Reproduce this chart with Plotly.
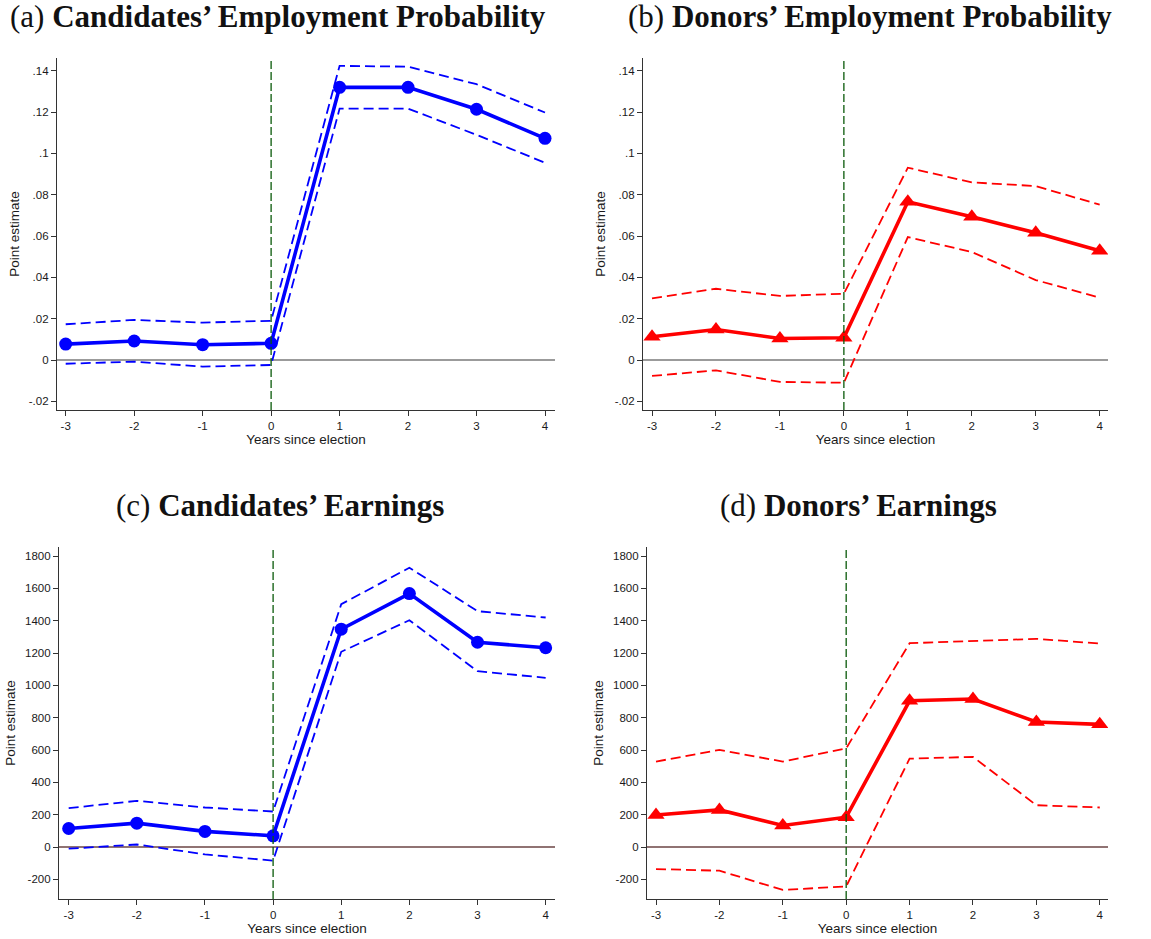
import plotly.graph_objects as go

years = [-3, -2, -1, 0, 1, 2, 3, 4]

# (a) Candidates' employment probability
cand_emp = [0.0077, 0.0092, 0.0074, 0.0081, 0.1320, 0.1320, 0.1214, 0.1073]
cand_emp_hi = [0.0173, 0.0194, 0.0181, 0.0190, 0.1424, 0.1420, 0.1335, 0.1198]
cand_emp_lo = [-0.0018, -0.0008, -0.0032, -0.0024, 0.1217, 0.1217, 0.1090, 0.0955]

# (b) Donors' employment probability
don_emp = [0.0113, 0.0148, 0.0104, 0.0108, 0.0766, 0.0694, 0.0616, 0.0529]
don_emp_hi = [0.0298, 0.0345, 0.0310, 0.0321, 0.0931, 0.0860, 0.0842, 0.0752]
don_emp_lo = [-0.0077, -0.0050, -0.0106, -0.0110, 0.0595, 0.0523, 0.0387, 0.0302]

# (c) Candidates' earnings
cand_earn = [115, 148, 97, 70, 1348, 1568, 1267, 1233]
cand_earn_hi = [241, 286, 245, 220, 1502, 1728, 1459, 1420]
cand_earn_lo = [-10, 16, -45, -84, 1208, 1403, 1088, 1047]

# (d) Donors' earnings
don_earn = [198, 230, 134, 185, 905, 916, 774, 759]
don_earn_hi = [529, 601, 529, 611, 1261, 1276, 1288, 1259]
don_earn_lo = [-136, -146, -265, -243, 547, 558, 259, 245]

emp_ticks = [-0.02, 0, 0.02, 0.04, 0.06, 0.08, 0.1, 0.12, 0.14]
emp_ticktext = ["-.02", "0", ".02", ".04", ".06", ".08", ".1", ".12", ".14"]
earn_ticks = [-200, 0, 200, 400, 600, 800, 1000, 1200, 1400, 1600, 1800]
earn_ticktext = [str(v) for v in earn_ticks]

titles = [
    "(a) <b>Candidates’ Employment Probability</b>",
    "(b) <b>Donors’ Employment Probability</b>",
    "(c) <b>Candidates’ Earnings</b>",
    "(d) <b>Donors’ Earnings</b>",
]

W, H = 1151, 939


def px_x(p):
    return p / W


def px_y(p):
    return 1 - p / H


panels = [
    dict(est=cand_emp, hi=cand_emp_hi, lo=cand_emp_lo, color="#0000FF", symbol="circle", msize=13,
         xdom=(57, 555), ydom=(58, 410), xr=(-3.127, 4.146), yr=(-0.0242, 0.1462),
         ticks=emp_ticks, ticktext=emp_ticktext, zero="#7a7a7a", tcx=278, tcy=17),
    dict(est=don_emp, hi=don_emp_hi, lo=don_emp_lo, color="#FF0000", symbol="triangle-up", msize=15,
         xdom=(643, 1108), ydom=(58, 410), xr=(-3.141, 4.13), yr=(-0.0242, 0.1462),
         ticks=emp_ticks, ticktext=emp_ticktext, zero="#7a7a7a", tcx=870, tcy=17),
    dict(est=cand_earn, hi=cand_earn_hi, lo=cand_earn_lo, color="#0000FF", symbol="circle", msize=13,
         xdom=(59, 555), ydom=(547, 899), xr=(-3.142, 4.137), yr=(-321, 1856),
         ticks=earn_ticks, ticktext=earn_ticktext, zero="#6b4545", tcx=280, tcy=505),
    dict(est=don_earn, hi=don_earn_hi, lo=don_earn_lo, color="#FF0000", symbol="triangle-up", msize=15,
         xdom=(647, 1108), ydom=(547, 899), xr=(-3.142, 4.13), yr=(-321, 1856),
         ticks=earn_ticks, ticktext=earn_ticktext, zero="#6b4545", tcx=858, tcy=505),
]

fig = go.Figure()
layout = dict(
    width=W, height=H, margin=dict(l=0, r=0, t=0, b=0),
    paper_bgcolor="white", plot_bgcolor="white", showlegend=False,
    font=dict(family="Liberation Sans, Arial, sans-serif", color="#1a1a1a", size=12),
)
annotations = []
shapes = []

for i, p in enumerate(panels):
    n = i + 1
    xa = "x" if n == 1 else f"x{n}"
    ya = "y" if n == 1 else f"y{n}"
    for series in (p["hi"], p["lo"]):
        fig.add_trace(go.Scatter(x=years, y=series, mode="lines", xaxis=xa, yaxis=ya,
                                 line=dict(color=p["color"], width=1.8, dash="10px,5px"),
                                 hoverinfo="skip"))
    fig.add_trace(go.Scatter(x=years, y=p["est"], mode="lines+markers", xaxis=xa, yaxis=ya,
                             line=dict(color=p["color"], width=3.6),
                             marker=dict(symbol=p["symbol"], size=p["msize"], color=p["color"])))
    xkey = "xaxis" if n == 1 else f"xaxis{n}"
    ykey = "yaxis" if n == 1 else f"yaxis{n}"
    layout[xkey] = dict(
        domain=[px_x(p["xdom"][0]), px_x(p["xdom"][1])], range=list(p["xr"]), anchor=ya,
        tickmode="array", tickvals=years, ticktext=[str(v) for v in years],
        ticks="outside", ticklen=5, tickcolor="#333", showline=True, linecolor="#333", linewidth=1.2,
        showgrid=False, zeroline=False, tickfont=dict(size=11.5),
        title=dict(text="Years since election", font=dict(size=13.5), standoff=1),
    )
    layout[ykey] = dict(
        domain=[px_y(p["ydom"][1]), px_y(p["ydom"][0])], range=list(p["yr"]), anchor=xa,
        tickmode="array", tickvals=p["ticks"], ticktext=p["ticktext"],
        ticks="outside", ticklen=5, tickcolor="#333", showline=True, linecolor="#333", linewidth=1.2,
        showgrid=False, zeroline=False, tickfont=dict(size=11.5),
        title=dict(text="Point estimate", font=dict(size=13.5), standoff=6),
    )
    # zero reference line
    shapes.append(dict(type="line", xref=f"{xa} domain", yref=ya, x0=0, x1=1, y0=0, y1=0,
                       line=dict(color=p["zero"], width=1.5), layer="below"))
    # vertical election line
    shapes.append(dict(type="line", xref=xa, yref=f"{ya} domain", x0=0, x1=0, y0=0, y1=1,
                       line=dict(color="#0a5a0a", width=1.3, dash="8px,3px"), layer="above"))
    annotations.append(dict(text=titles[i], xref="paper", yref="paper",
                            x=px_x(p["tcx"]), y=px_y(p["tcy"]), xanchor="center", yanchor="middle",
                            showarrow=False,
                            font=dict(family="Liberation Serif, Times New Roman, serif", size=31,
                                      color="#111")))

layout["annotations"] = annotations
layout["shapes"] = shapes
fig.update_layout(**layout)
fig.write_html(
    "out.html",
    config={"displayModeBar": False},
    post_script="document.body.style.margin='0';document.body.style.overflow='hidden';",
)
